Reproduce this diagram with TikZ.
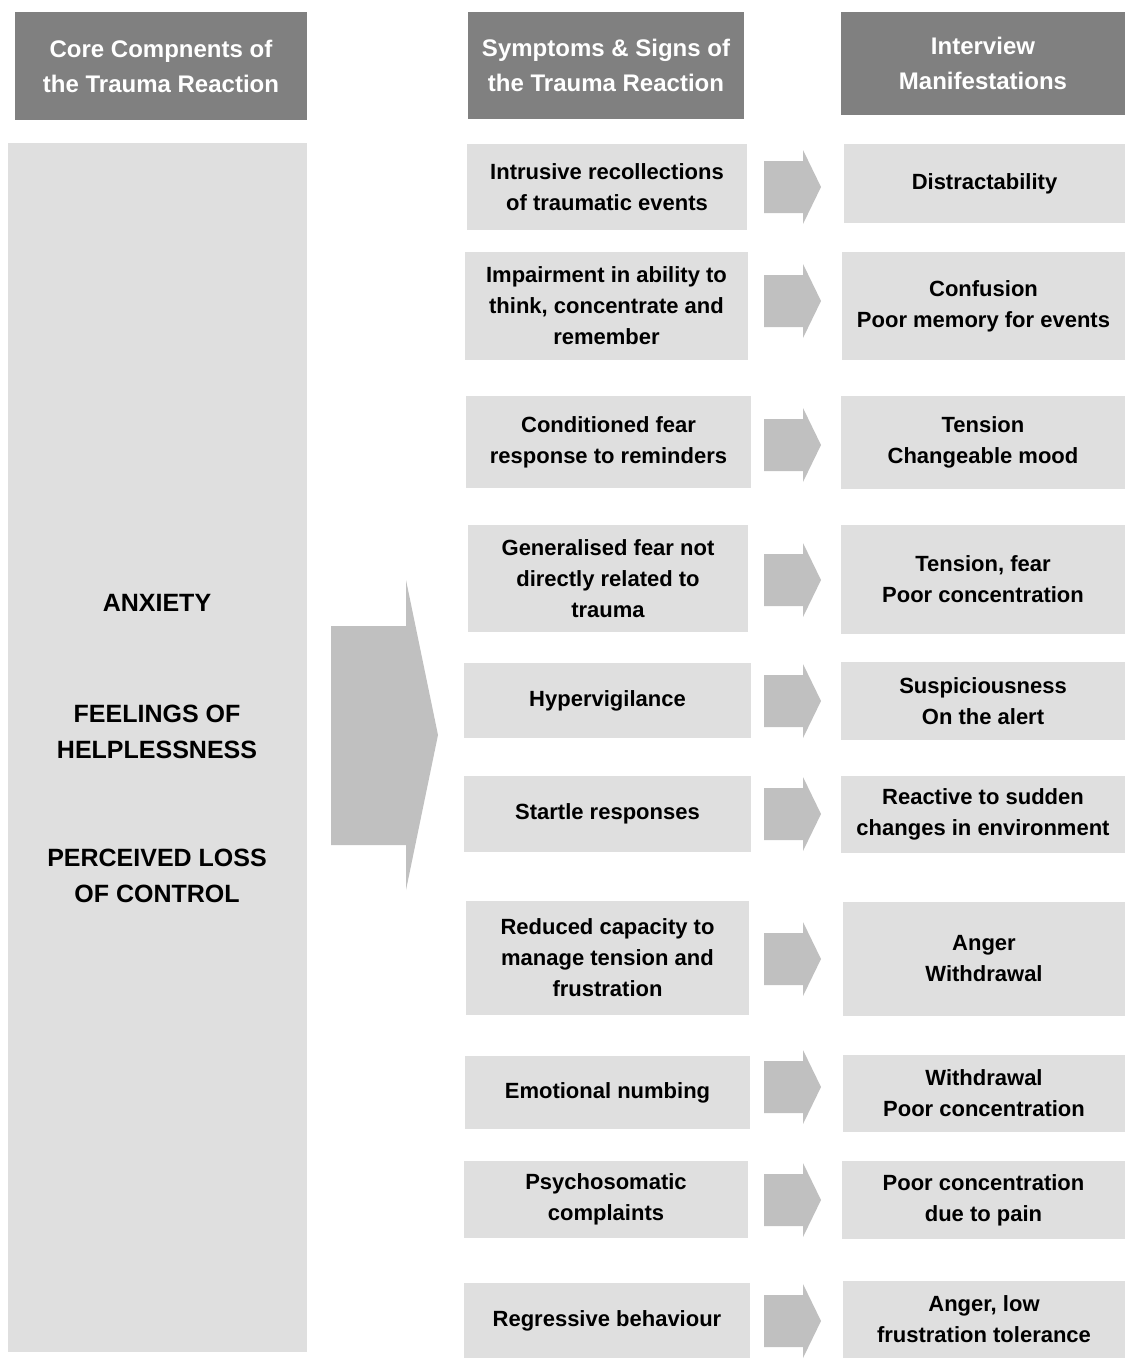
\documentclass[tikz,border=0pt]{standalone}
\usepackage{fontspec}
\setmainfont{Liberation Sans}
\definecolor{hdr}{HTML}{808080}
\definecolor{lbox}{HTML}{DFDFDF}
\definecolor{arr}{HTML}{C0C0C0}
\tikzset{
  hdrbox/.style={fill=hdr,draw=none,text=white,align=center,inner sep=0pt,
    font=\fontsize{24}{35}\selectfont\bfseries},
  itembox/.style={fill=lbox,draw=none,text=black,align=center,inner sep=0pt,
    font=\fontsize{22}{31}\selectfont\bfseries},
  coretext/.style={text=black,align=center,inner sep=0pt,
    font=\fontsize{25}{36}\selectfont\bfseries},
  arrowfill/.style={fill=arr,draw=none}
}
\newcommand\smallarrow[1]{%
  \fill[arrowfill] (764,{#1-26}) -- (803,{#1-26}) -- (803,{#1-37}) -- (821,#1)
    -- (803,{#1+37}) -- (803,{#1+26}) -- (764,{#1+26}) -- cycle;}
\begin{document}
\begin{tikzpicture}[x=1pt,y=-1pt]
\useasboundingbox (0,0) rectangle (1125,1360);
% headers
\node[hdrbox,minimum width=292,minimum height=108] (h1) at (161,66) {Core Compnents of\\the Trauma Reaction};
\node[hdrbox,minimum width=276,minimum height=107] (h2) at (606,65.5) {Symptoms \& Signs of\\the Trauma Reaction};
\node[hdrbox,minimum width=284,minimum height=103] (h3) at (983,63.5) {Interview\\Manifestations};
% left column
\node[fill=lbox,minimum width=299,minimum height=1209,inner sep=0pt] (core) at (157.5,747.5) {};
\node[coretext] (anx) at (157,603) {ANXIETY};
\node[coretext] (help) at (157,732) {FEELINGS OF\\HELPLESSNESS};
\node[coretext] (loss) at (157,876) {PERCEIVED LOSS\\OF CONTROL};
% big arrow
\fill[arrowfill] (331,626) -- (406,626) -- (406,580) -- (438,735) -- (406,890) -- (406,845) -- (331,845) -- cycle;
% rows
\node[itembox,minimum width=280,minimum height=86] (s1) at (607,187) {Intrusive recollections\\of traumatic events};
\node[itembox,minimum width=281,minimum height=79] (m1) at (984.5,183.5) {Distractability};
\smallarrow{187}
\node[itembox,minimum width=283,minimum height=108] (s2) at (606.5,306) {Impairment in ability to\\think, concentrate and\\remember};
\node[itembox,minimum width=283,minimum height=108] (m2) at (983.5,306) {Confusion\\Poor memory for events};
\smallarrow{301}
\node[itembox,minimum width=285,minimum height=92] (s3) at (608.5,442) {Conditioned fear\\response to reminders};
\node[itembox,minimum width=284,minimum height=93] (m3) at (983,442.5) {Tension\\Changeable mood};
\smallarrow{445}
\node[itembox,minimum width=280,minimum height=107] (s4) at (608,578.5) {Generalised fear not\\directly related to\\trauma};
\node[itembox,minimum width=284,minimum height=109] (m4) at (983,579.5) {Tension, fear\\Poor concentration};
\smallarrow{580}
\node[itembox,minimum width=287,minimum height=75] (s5) at (607.5,700.5) {Hypervigilance};
\node[itembox,minimum width=284,minimum height=78] (m5) at (983,701) {Suspiciousness\\On the alert};
\smallarrow{701}
\node[itembox,minimum width=287,minimum height=76] (s6) at (607.5,814) {Startle responses};
\node[itembox,minimum width=284,minimum height=77] (m6) at (983,814.5) {Reactive to sudden\\changes in environment};
\smallarrow{814}
\node[itembox,minimum width=283,minimum height=114] (s7) at (607.5,958) {Reduced capacity to\\manage tension and\\frustration};
\node[itembox,minimum width=282,minimum height=114] (m7) at (984,959) {Anger\\Withdrawal};
\smallarrow{959}
\node[itembox,minimum width=285,minimum height=73] (s8) at (607.5,1092.5) {Emotional numbing};
\node[itembox,minimum width=282,minimum height=77] (m8) at (984,1093.5) {Withdrawal\\Poor concentration};
\smallarrow{1087}
\node[itembox,minimum width=284,minimum height=77] (s9) at (606,1199.5) {Psychosomatic\\complaints};
\node[itembox,minimum width=283,minimum height=78] (m9) at (983.5,1200) {Poor concentration\\due to pain};
\smallarrow{1200}
\node[itembox,minimum width=286,minimum height=75] (s10) at (607,1320.5) {Regressive behaviour};
\node[itembox,minimum width=282,minimum height=77] (m10) at (984,1319.5) {Anger, low\\frustration tolerance};
\smallarrow{1321}
\end{tikzpicture}
\end{document}
